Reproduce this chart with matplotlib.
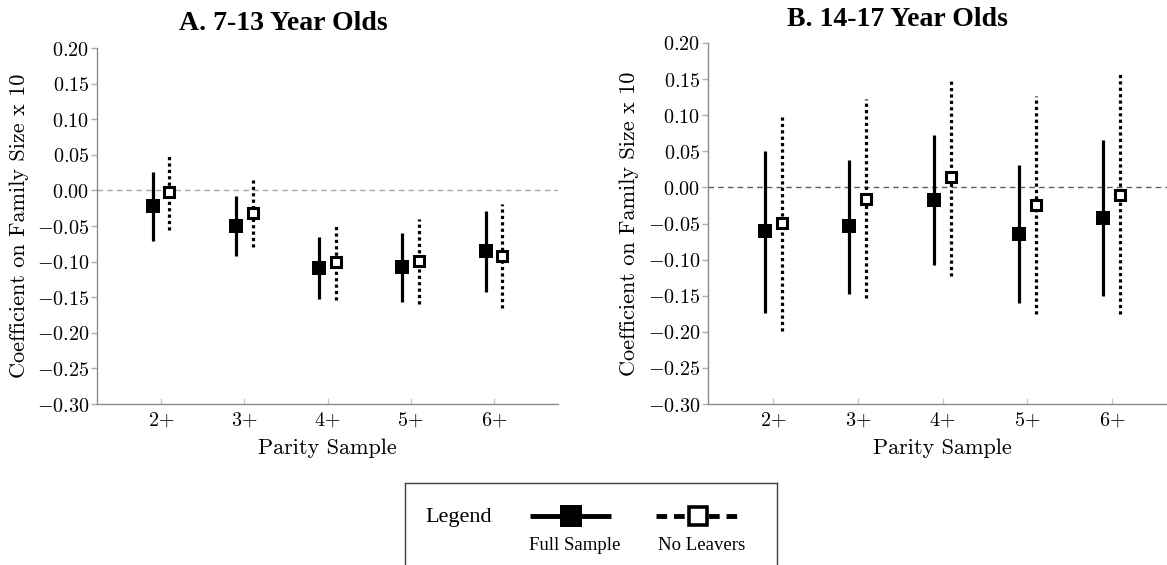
import numpy as np
import matplotlib
matplotlib.use("Agg")
import matplotlib.pyplot as plt
from matplotlib.ticker import FixedLocator, FuncFormatter

plt.rcParams['mathtext.fontset'] = 'cm'
plt.rcParams['axes.unicode_minus'] = True

# ---------------- data ----------------
parity = ['2+', '3+', '4+', '5+', '6+']

A_full_est = [-0.022, -0.050, -0.109, -0.108, -0.085]
A_full_lo = [-0.071, -0.092, -0.153, -0.157, -0.143]
A_full_hi = [0.026, -0.008, -0.065, -0.060, -0.029]
A_nl_est = [-0.002, -0.032, -0.101, -0.099, -0.092]
A_nl_lo = [-0.055, -0.080, -0.154, -0.160, -0.165]
A_nl_hi = [0.051, 0.016, -0.049, -0.040, -0.019]

B_full_est = [-0.061, -0.054, -0.017, -0.065, -0.043]
B_full_lo = [-0.174, -0.147, -0.107, -0.160, -0.151]
B_full_hi = [0.051, 0.038, 0.072, 0.031, 0.066]
B_nl_est = [-0.049, -0.016, 0.014, -0.024, -0.010]
B_nl_lo = [-0.199, -0.153, -0.123, -0.176, -0.176]
B_nl_hi = [0.100, 0.122, 0.150, 0.127, 0.157]

titles = ['A. 7-13 Year Olds', 'B. 14-17 Year Olds']
ylabel = 'Coefficient on Family Size x 10'
xlabel = 'Parity Sample'
yticks = [0.20, 0.15, 0.10, 0.05, 0.00, -0.05, -0.10, -0.15, -0.20, -0.25, -0.30]

# ---------------- figure ----------------
W, H = 1167, 565
fig = plt.figure(figsize=(W / 100, H / 100), dpi=100)

def px_axes(x0, x1, ytop, ybot):
    return fig.add_axes([x0 / W, 1 - ybot / H, (x1 - x0) / W, (ybot - ytop) / H])

axA = px_axes(97, 558, 48, 404)
axB = px_axes(708, 1177, 43, 404)

serif_cm = 'cmr10'
x = np.arange(2, 7)
off = 0.1

def draw(ax, fe, flo, fhi, ne, nlo, nhi, zero_col):
    ax.axhline(0, color=zero_col, lw=1.0, ls=(0, (4, 3)), zorder=1)
    ax.vlines(x - off, flo, fhi, color='black', lw=2.3, zorder=2)
    ax.vlines(x + off, nlo, nhi, color='black', lw=2.3, linestyles=[(0, (1, 1))], zorder=2)
    ax.plot(x - off, fe, ls='none', marker='s', ms=9.8, mfc='black', mec='black', mew=0, zorder=3)
    ax.plot(x + off, ne, ls='none', marker='s', ms=7.6, mfc='white', mec='black', mew=2.2, zorder=3)
    ax.set_xlim(1.23, 6.77)
    ax.set_ylim(-0.30, 0.20)
    ax.xaxis.set_major_locator(FixedLocator(list(x)))
    ax.set_xticklabels(['$' + p.replace('+', '{+}') + '$' for p in parity])
    ax.yaxis.set_major_locator(FixedLocator(yticks))
    ax.yaxis.set_major_formatter(FuncFormatter(lambda v, p: '$%.2f$' % v))
    for s in ['top', 'right']:
        ax.spines[s].set_visible(False)
    for s in ['left', 'bottom']:
        ax.spines[s].set_color('#8c8c8c')
        ax.spines[s].set_linewidth(1.0)
    ax.tick_params(axis='y', direction='out', length=4, width=1, color='#b0b0b0',
                   labelsize=14.5, pad=1.5, labelcolor='black')
    ax.tick_params(axis='x', direction='in', length=4, width=1, color='#c8c8c8',
                   labelsize=14.5, pad=5, labelcolor='black')
    ax.set_xlabel(xlabel, fontfamily=serif_cm, fontsize=16, labelpad=6)
    ax.set_ylabel(ylabel, fontfamily=serif_cm, fontsize=16)
    ax.patch.set_alpha(0)

draw(axA, A_full_est, A_full_lo, A_full_hi, A_nl_est, A_nl_lo, A_nl_hi, '#a8a8a8')
draw(axB, B_full_est, B_full_lo, B_full_hi, B_nl_est, B_nl_lo, B_nl_hi, '#606060')
axA.yaxis.set_label_coords(-0.147, 0.5)
axB.yaxis.set_label_coords(-0.147, 0.5)

fig.text(283 / W, 1 - 23 / H, titles[0], ha='center', va='center',
         fontfamily='Liberation Serif', fontweight='bold', fontsize=20)
fig.text(897 / W, 1 - 19 / H, titles[1], ha='center', va='center',
         fontfamily='Liberation Serif', fontweight='bold', fontsize=20)

# ---------------- legend box ----------------
lg = px_axes(405, 777, 483, 600)
lg.set_xlim(405, 777)
lg.set_ylim(600, 483)
lg.set_xticks([])
lg.set_yticks([])
for s in lg.spines.values():
    s.set_color('#404040')
    s.set_linewidth(1.0)
lg.text(425, 522, 'Legend', fontfamily='Liberation Serif', fontsize=16, va='baseline', ha='left')
lg.plot([530, 611], [516, 516], color='black', lw=3.5, solid_capstyle='butt')
lg.plot([571], [516], marker='s', ms=15.5, mfc='black', mec='black', mew=0)
lg.text(575, 550, 'Full Sample', fontfamily='Liberation Serif', fontsize=13.5, va='baseline', ha='center')
lg.plot([656, 739], [516, 516], color='black', lw=3.5, ls=(0, (2.2, 1.4)), dash_capstyle='butt')
lg.plot([698], [516], marker='s', ms=12.5, mfc='white', mec='black', mew=2.6)
lg.text(702, 550, 'No Leavers', fontfamily='Liberation Serif', fontsize=13.5, va='baseline', ha='center')

fig.savefig('out.png', dpi=100)
